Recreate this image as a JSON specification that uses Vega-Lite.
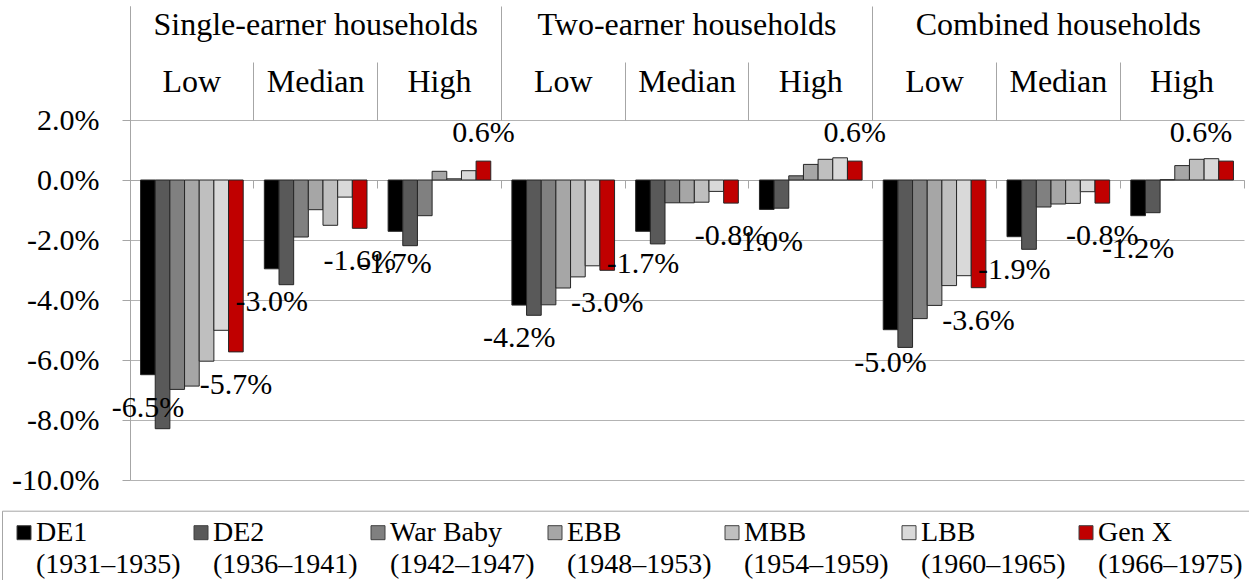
{
  "$schema": "https://vega.github.io/schema/vega-lite/v6.json",
  "width": 1114,
  "height": 474,
  "autosize": {"type": "none"},
  "padding": {"left": 130, "top": 6, "right": 5, "bottom": 100},
  "background": "white",
  "config": {
    "view": {"stroke": null},
    "font": "Liberation Serif",
    "locale": {"number": {"decimal": ".", "thousands": ",", "grouping": [3], "currency": ["$", ""], "minus": "-"}},
    "axis": {"labelFont": "Liberation Serif", "labelColor": "black", "grid": false},
    "text": {"font": "Liberation Serif"}
  },
  "data": {
    "values": [
      {"g": "Single-earner households|Low", "s": "DE1|(1931–1935)", "v": -0.0649},
      {"g": "Single-earner households|Low", "s": "DE2|(1936–1941)", "v": -0.0829},
      {"g": "Single-earner households|Low", "s": "War Baby|(1942–1947)", "v": -0.0698},
      {"g": "Single-earner households|Low", "s": "EBB|(1948–1953)", "v": -0.0687},
      {"g": "Single-earner households|Low", "s": "MBB|(1954–1959)", "v": -0.0604},
      {"g": "Single-earner households|Low", "s": "LBB|(1960–1965)", "v": -0.0501},
      {"g": "Single-earner households|Low", "s": "Gen X|(1966–1975)", "v": -0.0573},
      {"g": "Single-earner households|Median", "s": "DE1|(1931–1935)", "v": -0.0296},
      {"g": "Single-earner households|Median", "s": "DE2|(1936–1941)", "v": -0.0349},
      {"g": "Single-earner households|Median", "s": "War Baby|(1942–1947)", "v": -0.019},
      {"g": "Single-earner households|Median", "s": "EBB|(1948–1953)", "v": -0.0099},
      {"g": "Single-earner households|Median", "s": "MBB|(1954–1959)", "v": -0.0151},
      {"g": "Single-earner households|Median", "s": "LBB|(1960–1965)", "v": -0.0057},
      {"g": "Single-earner households|Median", "s": "Gen X|(1966–1975)", "v": -0.0161},
      {"g": "Single-earner households|High", "s": "DE1|(1931–1935)", "v": -0.0171},
      {"g": "Single-earner households|High", "s": "DE2|(1936–1941)", "v": -0.0219},
      {"g": "Single-earner households|High", "s": "War Baby|(1942–1947)", "v": -0.0119},
      {"g": "Single-earner households|High", "s": "EBB|(1948–1953)", "v": 0.0029},
      {"g": "Single-earner households|High", "s": "MBB|(1954–1959)", "v": 0.0004},
      {"g": "Single-earner households|High", "s": "LBB|(1960–1965)", "v": 0.0031},
      {"g": "Single-earner households|High", "s": "Gen X|(1966–1975)", "v": 0.0063},
      {"g": "Two-earner households|Low", "s": "DE1|(1931–1935)", "v": -0.0417},
      {"g": "Two-earner households|Low", "s": "DE2|(1936–1941)", "v": -0.0451},
      {"g": "Two-earner households|Low", "s": "War Baby|(1942–1947)", "v": -0.0416},
      {"g": "Two-earner households|Low", "s": "EBB|(1948–1953)", "v": -0.036},
      {"g": "Two-earner households|Low", "s": "MBB|(1954–1959)", "v": -0.0323},
      {"g": "Two-earner households|Low", "s": "LBB|(1960–1965)", "v": -0.0286},
      {"g": "Two-earner households|Low", "s": "Gen X|(1966–1975)", "v": -0.0301},
      {"g": "Two-earner households|Median", "s": "DE1|(1931–1935)", "v": -0.0171},
      {"g": "Two-earner households|Median", "s": "DE2|(1936–1941)", "v": -0.0213},
      {"g": "Two-earner households|Median", "s": "War Baby|(1942–1947)", "v": -0.0076},
      {"g": "Two-earner households|Median", "s": "EBB|(1948–1953)", "v": -0.0076},
      {"g": "Two-earner households|Median", "s": "MBB|(1954–1959)", "v": -0.0074},
      {"g": "Two-earner households|Median", "s": "LBB|(1960–1965)", "v": -0.0038},
      {"g": "Two-earner households|Median", "s": "Gen X|(1966–1975)", "v": -0.0077},
      {"g": "Two-earner households|High", "s": "DE1|(1931–1935)", "v": -0.0098},
      {"g": "Two-earner households|High", "s": "DE2|(1936–1941)", "v": -0.0094},
      {"g": "Two-earner households|High", "s": "War Baby|(1942–1947)", "v": 0.0014},
      {"g": "Two-earner households|High", "s": "EBB|(1948–1953)", "v": 0.0052},
      {"g": "Two-earner households|High", "s": "MBB|(1954–1959)", "v": 0.0069},
      {"g": "Two-earner households|High", "s": "LBB|(1960–1965)", "v": 0.0074},
      {"g": "Two-earner households|High", "s": "Gen X|(1966–1975)", "v": 0.0063},
      {"g": "Combined households|Low", "s": "DE1|(1931–1935)", "v": -0.0499},
      {"g": "Combined households|Low", "s": "DE2|(1936–1941)", "v": -0.0558},
      {"g": "Combined households|Low", "s": "War Baby|(1942–1947)", "v": -0.0462},
      {"g": "Combined households|Low", "s": "EBB|(1948–1953)", "v": -0.0418},
      {"g": "Combined households|Low", "s": "MBB|(1954–1959)", "v": -0.0352},
      {"g": "Combined households|Low", "s": "LBB|(1960–1965)", "v": -0.0319},
      {"g": "Combined households|Low", "s": "Gen X|(1966–1975)", "v": -0.0359},
      {"g": "Combined households|Median", "s": "DE1|(1931–1935)", "v": -0.0189},
      {"g": "Combined households|Median", "s": "DE2|(1936–1941)", "v": -0.0231},
      {"g": "Combined households|Median", "s": "War Baby|(1942–1947)", "v": -0.009},
      {"g": "Combined households|Median", "s": "EBB|(1948–1953)", "v": -0.008},
      {"g": "Combined households|Median", "s": "MBB|(1954–1959)", "v": -0.0078},
      {"g": "Combined households|Median", "s": "LBB|(1960–1965)", "v": -0.0039},
      {"g": "Combined households|Median", "s": "Gen X|(1966–1975)", "v": -0.0077},
      {"g": "Combined households|High", "s": "DE1|(1931–1935)", "v": -0.0119},
      {"g": "Combined households|High", "s": "DE2|(1936–1941)", "v": -0.0109},
      {"g": "Combined households|High", "s": "War Baby|(1942–1947)", "v": 0.0001},
      {"g": "Combined households|High", "s": "EBB|(1948–1953)", "v": 0.0048},
      {"g": "Combined households|High", "s": "MBB|(1954–1959)", "v": 0.0069},
      {"g": "Combined households|High", "s": "LBB|(1960–1965)", "v": 0.0071},
      {"g": "Combined households|High", "s": "Gen X|(1966–1975)", "v": 0.0063}
    ]
  },
  "encoding": {
    "y": {
      "field": "v",
      "type": "quantitative",
      "scale": {"domain": [-0.1, 0.058], "nice": false, "zero": false},
      "axis": {
        "values": [-0.1, -0.08, -0.06, -0.04, -0.02, 0, 0.02],
        "format": ".1%",
        "title": null,
        "grid": true,
        "gridColor": "#b3b3b3",
        "gridWidth": 1,
        "domainColor": "#a6a6a6",
        "tickColor": "#a6a6a6",
        "tickSize": 8,
        "labelFontSize": 30,
        "labelPadding": 23,
        "labelFont": "Liberation Serif",
        "labelColor": "black"
      }
    },
    "xOffset": {
      "field": "s",
      "type": "nominal",
      "scale": {
        "domain": ["DE1|(1931–1935)", "DE2|(1936–1941)", "War Baby|(1942–1947)", "EBB|(1948–1953)", "MBB|(1954–1959)", "LBB|(1960–1965)", "Gen X|(1966–1975)"],
        "paddingInner": 0,
        "paddingOuter": 0.72
      }
    }
  },
  "layer": [
    {
      "mark": {"type": "bar", "stroke": "#262626", "strokeWidth": 1},
      "encoding": {
        "x": {
          "field": "g",
          "type": "nominal",
          "scale": {
            "domain": ["Single-earner households|Low", "Single-earner households|Median", "Single-earner households|High", "Two-earner households|Low", "Two-earner households|Median", "Two-earner households|High", "Combined households|Low", "Combined households|Median", "Combined households|High"],
            "paddingInner": 0,
            "paddingOuter": 0
          },
          "axis": {
            "orient": "top",
            "offset": -114,
            "title": null,
            "domain": false,
            "bandPosition": 0,
            "tickSize": 58,
            "tickColor": "#a6a6a6",
            "labelExpr": "split(datum.label, '|')[1]",
            "labelAngle": 0,
            "labelAlign": "center",
            "labelBaseline": "alphabetic",
            "labelPadding": -29.7,
            "labelFontSize": 32,
            "labelOverlap": false,
            "labelFlush": false,
            "labelBound": false
          }
        },
        "color": {
          "field": "s",
          "type": "nominal",
          "scale": {
            "domain": ["DE1|(1931–1935)", "DE2|(1936–1941)", "War Baby|(1942–1947)", "EBB|(1948–1953)", "MBB|(1954–1959)", "LBB|(1960–1965)", "Gen X|(1966–1975)"],
            "range": ["#000000", "#595959", "#808080", "#a6a6a6", "#bfbfbf", "#d9d9d9", "#c00000"]
          },
          "legend": {
            "orient": "none",
            "legendX": -128,
            "legendY": 504.7,
            "direction": "horizontal",
            "columns": 7,
            "title": null,
            "labelExpr": "split(datum.label, '|')",
            "labelFont": "Liberation Serif",
            "labelFontSize": 28,
            "labelColor": "black",
            "labelLimit": 400,
            "labelBaseline": "middle",
            "labelOffset": -2,
            "symbolType": "square",
            "symbolSize": 196,
            "symbolStrokeColor": "#404040",
            "symbolStrokeWidth": 1,
            "columnPadding": 6,
            "padding": 8,
            "strokeColor": "#a6a6a6",
            "fillColor": "white",
            "encoding": {"labels": {"lineHeight": {"value": 32}}}
          }
        }
      }
    },
    {
      "transform": [{"filter": "(datum.s == 'DE1|(1931–1935)' || datum.s == 'Gen X|(1966–1975)') && datum.v < 0"}],
      "mark": {"type": "text", "baseline": "middle", "align": "center", "dy": 33, "fontSize": 30, "color": "black", "font": "Liberation Serif"},
      "encoding": {
        "x": {
          "field": "g",
          "type": "nominal",
          "axis": {
            "orient": "top",
            "offset": -114,
            "title": null,
            "domain": false,
            "values": ["Single-earner households|Low", "Two-earner households|Low", "Combined households|Low"],
            "bandPosition": 0,
            "tickSize": 114,
            "tickColor": "#a6a6a6",
            "labelExpr": "split(datum.label, '|')[0]",
            "labelAngle": 0,
            "labelAlign": "center",
            "labelBaseline": "alphabetic",
            "labelOffset": 123.8,
            "labelPadding": -28,
            "labelFontSize": 32,
            "labelOverlap": false,
            "labelFlush": false,
            "labelBound": false,
            "labelLimit": 500
          }
        },
        "text": {"field": "v", "format": ".1%"}
      }
    },
    {
      "transform": [{"filter": "(datum.s == 'DE1|(1931–1935)' || datum.s == 'Gen X|(1966–1975)') && datum.v >= 0 && datum.g != 'Combined households|High'"}],
      "mark": {"type": "text", "baseline": "middle", "align": "center", "dy": -28, "fontSize": 30, "color": "black", "font": "Liberation Serif"},
      "encoding": {
        "x": {
          "field": "g",
          "type": "nominal",
          "axis": {
            "orient": "bottom",
            "offset": -300,
            "title": null,
            "domain": true,
            "domainColor": "#a6a6a6",
            "bandPosition": 1,
            "tickExtra": true,
            "tickSize": 8,
            "tickColor": "#a6a6a6",
            "labels": false
          }
        },
        "text": {"field": "v", "format": ".1%"}
      }
    },
    {
      "transform": [{"filter": "datum.s == 'Gen X|(1966–1975)' && datum.v >= 0 && datum.g == 'Combined households|High'"}],
      "mark": {"type": "text", "baseline": "middle", "align": "center", "dx": -25, "dy": -28, "fontSize": 30, "color": "black", "font": "Liberation Serif"},
      "encoding": {
        "x": {"field": "g", "type": "nominal", "axis": null},
        "text": {"field": "v", "format": ".1%"}
      }
    }
  ],
  "resolve": {"axis": {"x": "independent"}}
}
